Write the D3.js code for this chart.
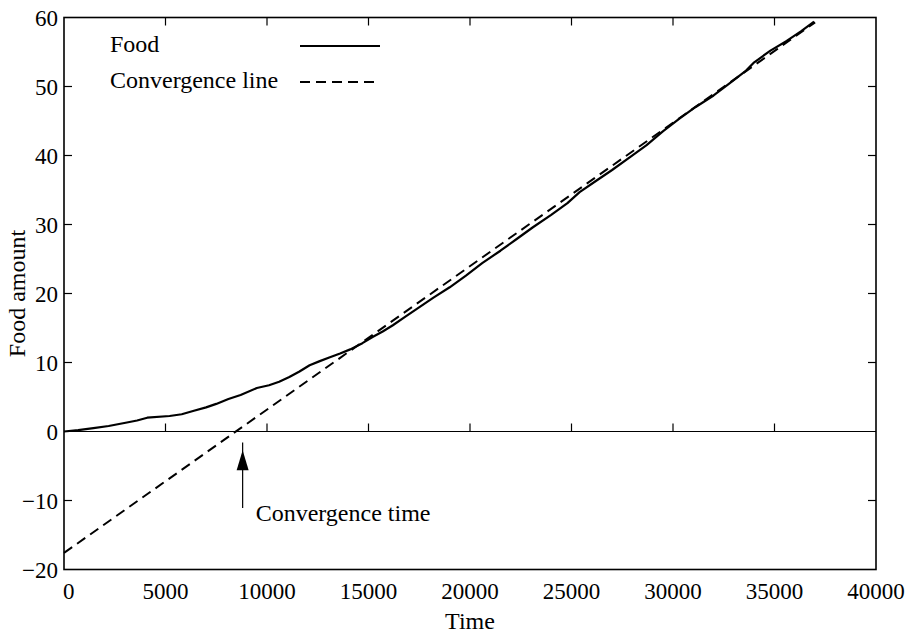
<!DOCTYPE html>
<html>
<head>
<meta charset="UTF-8">
<title>Food amount</title>
<script src="https://cdnjs.cloudflare.com/ajax/libs/d3/7.8.5/d3.min.js"></script>
<style>
  body { margin: 0; background: #fff; }
  text { font-family: "Liberation Serif", "Times New Roman", serif; fill: #000; }
</style>
</head>
<body>
<div class="holder"></div>
<script>
var foodTime = [0, 700, 1450, 2200, 3100, 3600, 4100, 5200, 5800, 6400, 7000, 7500, 8100, 8700,
    9500, 10100, 10600, 11100, 11600, 12100, 12600, 13100, 13600, 14100, 14700, 15200, 15700,
    16200, 16800, 17400, 18200, 19000, 19800, 20600, 21500, 22300, 23100, 24000, 24800, 25400,
    26200, 27000, 27900, 28700, 29500, 30300, 31100, 32000, 32800, 33600, 34000, 34800, 35600,
    36300, 36950];
var foodAmount = [0, 0.2, 0.5, 0.8, 1.3, 1.6, 2.0, 2.25, 2.5, 3.0, 3.5, 4.0, 4.7, 5.3,
    6.3, 6.7, 7.2, 7.9, 8.7, 9.6, 10.2, 10.75, 11.3, 11.9, 12.8, 13.7, 14.5,
    15.4, 16.6, 17.8, 19.4, 20.9, 22.6, 24.4, 26.2, 27.9, 29.6, 31.4, 33.1, 34.7,
    36.3, 37.9, 39.8, 41.5, 43.5, 45.3, 47.0, 48.7, 50.5, 52.3, 53.5, 55.2, 56.6,
    58.0, 59.4];

// convergence line end points
var convTime = [0, 37000];
var convAmount = [-17.6, 59.3];
var convergenceTime = 8800;

var xTicks = [0, 5000, 10000, 15000, 20000, 25000, 30000, 35000, 40000];
var yTicks = [-20, -10, 0, 10, 20, 30, 40, 50, 60];
var legendLabels = ["Food", "Convergence line"];

var W = 908, H = 635;
var margin = {left: 64, right: 32, top: 17.5, bottom: 65.5};
var tickFont = 23, textFont = 24;

var svg = d3.select(".holder").append("svg")
    .attr("width", W)
    .attr("height", H);

var x = d3.scaleLinear().domain([0, 40000]).range([margin.left, W - margin.right]);
var y = d3.scaleLinear().domain([-20, 60]).range([H - margin.bottom, margin.top]);

var tick = 8;
var g = svg.append("g").attr("stroke", "#000").attr("stroke-width", 1.2);

// ticks on left / right (inward)
yTicks.slice(1, -1).forEach(function(v) {
    if (v === 0) return;
    g.append("line").attr("x1", x(0)).attr("x2", x(0) + tick).attr("y1", y(v)).attr("y2", y(v));
    g.append("line").attr("x1", x(40000)).attr("x2", x(40000) - tick).attr("y1", y(v)).attr("y2", y(v));
});
// ticks on top (down) and on the zero line (up)
xTicks.slice(1, -1).forEach(function(v) {
    g.append("line").attr("x1", x(v)).attr("x2", x(v)).attr("y1", y(60)).attr("y2", y(60) + tick);
    g.append("line").attr("x1", x(v)).attr("x2", x(v)).attr("y1", y(0)).attr("y2", y(0) - tick);
});
// zero line
g.append("line").attr("x1", x(0)).attr("x2", x(40000)).attr("y1", y(0)).attr("y2", y(0));

// frame
svg.append("rect")
    .attr("x", x(0)).attr("y", y(60))
    .attr("width", x(40000) - x(0)).attr("height", y(-20) - y(60))
    .attr("fill", "none").attr("stroke", "#000").attr("stroke-width", 1.6);

// tick labels
svg.selectAll(".ylab").data(yTicks).enter().append("text")
    .attr("class", "ylab")
    .attr("x", x(0) - 6)
    .attr("y", function(d) { return y(d); })
    .attr("dy", "0.35em")
    .attr("text-anchor", "end")
    .style("font-size", tickFont + "px")
    .text(function(d) { return d < 0 ? "\u2212" + Math.abs(d) : d; });

svg.selectAll(".xlab").data(xTicks).enter().append("text")
    .attr("class", "xlab")
    .attr("x", function(d) { return x(d); })
    .attr("y", y(-20) + 29)
    .attr("text-anchor", function(d) { return d === 0 ? "start" : "middle"; })
    .attr("dx", function(d) { return d === 0 ? -1 : 0; })
    .style("font-size", tickFont + "px")
    .text(function(d) { return d; });

// axis titles
svg.append("text")
    .attr("x", x(20000)).attr("y", H - 6)
    .attr("text-anchor", "middle")
    .style("font-size", textFont + "px")
    .text("Time");

svg.append("text")
    .attr("transform", "translate(25," + y(20) + ") rotate(-90)")
    .attr("text-anchor", "middle")
    .style("font-size", textFont + "px")
    .text("Food amount");

// data lines
var foodData = foodTime.map(function(t, i) { return [t, foodAmount[i]]; });
var convData = convTime.map(function(t, i) { return [t, convAmount[i]]; });

var line = d3.line()
    .x(function(d) { return x(d[0]); })
    .y(function(d) { return y(d[1]); });

svg.append("path").datum(convData)
    .attr("d", line)
    .attr("fill", "none").attr("stroke", "#000").attr("stroke-width", 2)
    .attr("stroke-dasharray", "10,6");

svg.append("path").datum(foodData)
    .attr("d", line)
    .attr("fill", "none").attr("stroke", "#000").attr("stroke-width", 2.2)
    .attr("stroke-linejoin", "round");

// legend
var legY = [44, 80];
legendLabels.forEach(function(lab, i) {
    svg.append("text")
        .attr("x", 110).attr("y", legY[i])
        .attr("dy", "0.35em")
        .style("font-size", textFont + "px")
        .text(lab);
    svg.append("line")
        .attr("x1", 300).attr("x2", 380)
        .attr("y1", legY[i] + 2).attr("y2", legY[i] + 2)
        .attr("stroke", "#000").attr("stroke-width", 2)
        .attr("stroke-dasharray", i === 1 ? "10,6" : null);
});

// convergence time arrow
var ax = x(convergenceTime);
svg.append("line")
    .attr("x1", ax).attr("x2", ax)
    .attr("y1", y(-1.6)).attr("y2", y(-11.1))
    .attr("stroke", "#000").attr("stroke-width", 1.2);
svg.append("path")
    .attr("d", "M" + ax + "," + y(-2.7) + "l-6,20l12,0z")
    .attr("fill", "#000");
svg.append("text")
    .attr("x", ax + 13).attr("y", y(-11.7))
    .attr("dy", "0.35em")
    .style("font-size", textFont + "px")
    .text("Convergence time");
</script>
</body>
</html>
